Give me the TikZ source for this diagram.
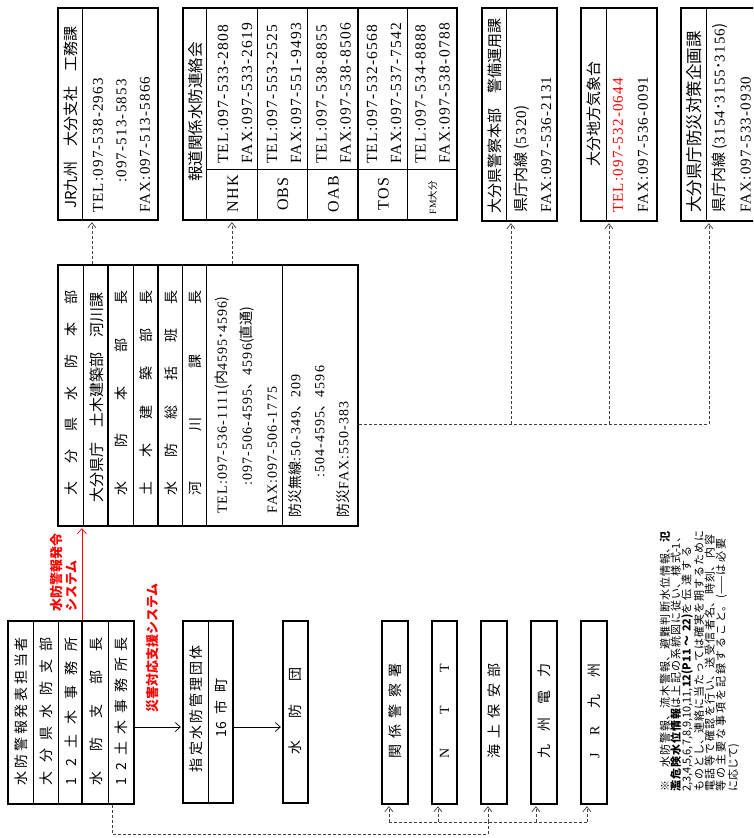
\documentclass[tikz,border=0pt]{standalone}
\usepackage{fontspec}
\setmainfont{Noto Sans CJK JP}
\newfontfamily\telfont[LetterSpace=8]{Liberation Serif}
\usetikzlibrary{arrows.meta,calc}
\newcommand{\spread}[2]{\makebox[#1][s]{#2}}
\newcommand{\tl}[1]{{\telfont #1}}

\begin{document}
\begin{tikzpicture}[x=1pt, y=-1pt,
    frame/.style={draw=black, line width=2.2pt, inner sep=0pt},
    rule/.style={line width=0.7pt},
    heavyrule/.style={line width=2pt},
    vt/.style={rotate=90, inner sep=0pt, font=\fontsize{14}{16}\selectfont},
    block/.style={vt, anchor=west, align=left},
    station/.style={vt, font=\telfont\fontsize{16}{18}\selectfont},
    telpair/.style={block, font=\telfont\fontsize{15.5}{24}\selectfont},
    alert/.style={text=red, font=\fontsize{13}{15}\selectfont\bfseries},
    arr/.style={-{Straight Barb[length=5pt,width=9pt]}, line width=0.7pt, shorten >=1.1pt},
    redarr/.style={arr, draw=red},
    dashline/.style={draw=black!75, line width=0.7pt, dash pattern=on 3pt off 2pt},
    dasharr/.style={dashline, -{Straight Barb[length=5pt,width=8pt]}, shorten >=1.1pt}
  ]
  \useasboundingbox (0,0) rectangle (753,838);
  \clip (0,0) rectangle (753,838);

  \node[frame, minimum width=100pt, minimum height=212pt] (jr) at (108,114) {};
  \draw[rule] ($(jr.north west)+(25,0)$) -- ($(jr.south west)+(25,0)$);
  \node[vt, font=\fontsize{15}{17}\selectfont] (jrname) at (70.5,117.5) {JR九州　大分支社　工務課};
  \node[block, font=\fontsize{15}{23.5}\selectfont] (jrtel) at (121.5,213)
  {\tl{TEL:097-538-2963}\\\phantom{\tl{TEL}}\tl{:097-513-5853}\\\tl{FAX:097-513-5866}};

  \node[frame, minimum width=274pt, minimum height=212pt] (media) at (320,114) {};
  \draw[line width=1pt] ($(media.north west)+(25,0)$) -- ($(media.south west)+(25,0)$);
  \draw[rule] ($(media.north west)+(75,0)$) -- ($(media.south west)+(75,0)$);
  \draw[rule] ($(media.north west)+(125,0)$) -- ($(media.south west)+(125,0)$);
  \draw[heavyrule] ($(media.north west)+(176,0)$) -- ($(media.south west)+(176,0)$);
  \draw[rule] ($(media.north west)+(225,0)$) -- ($(media.south west)+(225,0)$);
  \draw[rule] ($(media.north west)+(25,162)$) -- ($(media.north east)+(0,162)$);
  \node[vt, font=\fontsize{15.5}{17}\selectfont] (medianame) at (195.5,112) {報道関係水防連絡会};
  \node[station] (nhk) at (233,194) {NHK};
  \node[station] (obs) at (283,194) {OBS};
  \node[station] (oab) at (333.5,194) {OAB};
  \node[station] (tos) at (383.5,194) {TOS};
  \node[vt, font=\fontsize{9.5}{11}\selectfont] (fm) at (432.5,198) {\tl{FM}大分};
  \node[telpair] (nhktel) at (235,164) {TEL:097-533-2808\\FAX:097-533-2619};
  \node[telpair] (obstel) at (284,164) {TEL:097-553-2525\\FAX:097-551-9493};
  \node[telpair] (oabtel) at (333.5,164) {TEL:097-538-8855\\FAX:097-538-8506};
  \node[telpair] (tostel) at (384,164) {TEL:097-532-6568\\FAX:097-537-7542};
  \node[telpair] (fmtel) at (432.5,164) {TEL:097-534-8888\\FAX:097-538-0788};

  \node[frame, minimum width=75pt, minimum height=213pt] (police) at (519.5,114.5) {};
  \draw[rule] ($(police.north west)+(25,0)$) -- ($(police.south west)+(25,0)$);
  \node[block, font=\fontsize{15}{17}\selectfont] (policename) at (494.5,214) {大分県警察本部　警備運用課};
  \node[block, font=\fontsize{15}{25}\selectfont] (policetel) at (532.5,213)
  {県庁内線 (\tl{5320})\\\tl{FAX:097-536-2131}};

  \node[frame, minimum width=76pt, minimum height=213pt] (met) at (619,114.5) {};
  \draw[rule] ($(met.north west)+(26,0)$) -- ($(met.south west)+(26,0)$);
  \node[vt, font=\fontsize{15}{17}\selectfont] (metname) at (594,113.5) {大分地方気象台};
  \node[block, font=\fontsize{15}{25}\selectfont] (mettel) at (630.5,213)
  {\textcolor{red}{\tl{TEL:097-532-0644}}\\\tl{FAX:097-536-0091}};

  \node[frame, minimum width=75pt, minimum height=213pt] (disaster) at (718.5,114.5) {};
  \draw[rule] ($(disaster.north west)+(26,0)$) -- ($(disaster.south west)+(26,0)$);
  \node[block, font=\fontsize{16.5}{18}\selectfont] (disname) at (694,213) {大分県庁防災対策企画課};
  \node[block, font=\fontsize{15}{26}\selectfont] (distel) at (731.5,213)
  {県庁内線 (\tl{3154}･\tl{3155}･\tl{3156})\\\tl{FAX:097-533-0930}};

  \node[frame, minimum width=300pt, minimum height=261pt] (hq) at (208,395.5) {};
  \draw[rule] ($(hq.north west)+(26,0)$) -- ($(hq.south west)+(26,0)$);
  \draw[heavyrule] ($(hq.north west)+(51,0)$) -- ($(hq.south west)+(51,0)$);
  \draw[rule] ($(hq.north west)+(76,0)$) -- ($(hq.south west)+(76,0)$);
  \draw[heavyrule] ($(hq.north west)+(101,0)$) -- ($(hq.south west)+(101,0)$);
  \draw[rule] ($(hq.north west)+(125,0)$) -- ($(hq.south west)+(125,0)$);
  \draw[line width=1pt] ($(hq.north west)+(150,0)$) -- ($(hq.south west)+(150,0)$);
  \draw[rule] ($(hq.north west)+(225,0)$) -- ($(hq.south west)+(225,0)$);
  \node[vt] (hqname) at (71,393) {\spread{205pt}{大 分 県 水 防 本 部}};
  \node[vt, font=\fontsize{15}{17}\selectfont] (hqdept) at (96.5,397.5) {大分県庁　土木建築部　河川課};
  \node[vt] (hqchief) at (121.5,393) {\spread{205pt}{水 防 本 部 長}};
  \node[vt] (hqcivil) at (146.5,393) {\spread{205pt}{土 木 建 築 部 長}};
  \node[vt] (hqlead) at (171,393) {\spread{205pt}{水 防 総 括 班 長}};
  \node[vt] (hqriver) at (195.5,393) {\spread{205pt}{河 川 課 長}};
  \node[block, font=\fontsize{14}{25}\selectfont] (hqtel) at (246,514)
  {\tl{TEL:097-536-1111}(内\tl{4595}･\tl{4596})\\
   \phantom{\tl{TEL}}\tl{:097-506-4595}、\tl{4596}(直通)\\
   \tl{FAX:097-506-1775}};
  \node[block, font=\fontsize{14}{24}\selectfont] (hqradio) at (319,518)
  {防災無線\tl{:50-349}、\tl{209}\\
   \hspace*{40pt}\tl{:504-4595}、\tl{4596}\\
   防災\tl{FAX:550-383}};

  \node[frame, minimum width=126pt, minimum height=183pt] (warn) at (71,712.5) {};
  \draw[rule] ($(warn.north west)+(26,0)$) -- ($(warn.south west)+(26,0)$);
  \draw[rule] ($(warn.north west)+(51,0)$) -- ($(warn.south west)+(51,0)$);
  \draw[heavyrule] ($(warn.north west)+(75,0)$) -- ($(warn.south west)+(75,0)$);
  \draw[rule] ($(warn.north west)+(101,0)$) -- ($(warn.south west)+(101,0)$);
  \node[vt] (warnrole) at (21,711) {\spread{148pt}{水 防 警 報 発 表 担 当 者}};
  \node[vt] (warnbranch) at (46.5,711) {\spread{148pt}{大 分 県 水 防 支 部}};
  \node[vt] (warnoffice) at (71,711) {\spread{148pt}{1 2 土 木 事 務 所}};
  \node[vt] (warnchief) at (96,711) {\spread{148pt}{水 防 支 部 長}};
  \node[vt] (warnhead) at (121.5,711) {\spread{148pt}{1 2 土 木 事 務 所 長}};

  \node[frame, minimum width=50pt, minimum height=182pt] (city) at (208,712) {};
  \draw[rule] ($(city.north west)+(26,0)$) -- ($(city.south west)+(26,0)$);
  \node[vt] (citygroup) at (196,709.5) {\spread{125pt}{指 定 水 防 管 理 団 体}};
  \node[vt] (citycount) at (221,708) {\spread{59pt}{16 市 町}};

  \node[frame, minimum width=25pt, minimum height=182pt] (corps) at (295.5,712) {};
  \node[vt] (corpsname) at (295.5,711) {\spread{87pt}{水 防 団}};

  \node[frame, minimum width=26pt, minimum height=183pt] (kpolice) at (395,712.5) {};
  \node[frame, minimum width=25pt, minimum height=183pt] (ntt) at (444.5,712.5) {};
  \node[frame, minimum width=26pt, minimum height=183pt] (coast) at (494,712.5) {};
  \node[frame, minimum width=26pt, minimum height=183pt] (power) at (544,712.5) {};
  \node[frame, minimum width=26pt, minimum height=183pt] (jrk) at (594,712.5) {};
  \node[vt] (kpolicename) at (395,711) {\spread{95pt}{関 係 警 察 署}};
  \node[vt] (nttname) at (444.5,711) {\spread{95pt}{\tl{N} \tl{T} \tl{T}}};
  \node[vt] (coastname) at (494,711) {\spread{95pt}{海 上 保 安 部}};
  \node[vt] (powername) at (544,711) {\spread{95pt}{九 州 電 力}};
  \node[vt] (jrkname) at (594,711) {\spread{95pt}{\tl{J} \tl{R} 九 州}};

  \node[block, alert] (warnsys) at (63.5,612) {水防警報発令\\システム};
  \node[vt, alert] (supsys) at (152.5,648) {災害対応支援システム};

  \node[vt, anchor=north west, text width=268pt, font=\fontsize{11}{10.8}\selectfont] (note) at (659.5,792)
  {\XeTeXlinebreaklocale "ja"\XeTeXlinebreakskip=0pt plus 3pt\lineskiplimit=-20pt\noindent\hangindent=24pt\hangafter=1
   ※\hspace{13pt}水防警報、流木警報、避難判断水位情報、\textbf{氾}\linebreak
   \textbf{濫危険水位情報}は上記の系統図に従い、様式-1、\linebreak
   2,3,4,5,6,7,8,9,10,11,\textbf{12(P11～22)}を伝達する\linebreak
   ものとし、連絡に当たっては確実を期するために\linebreak
   電話等で確認を行い、送受信者名、時刻、内容\linebreak
   等の主要な事項を記録すること。(------は必要\linebreak
   に応じて)};

  \coordinate (toprun) at (0,424);
  \coordinate (feed) at (0,727);
  \coordinate (fanrun) at (0,822);
  \coordinate (lowrun) at (0,834);

  \draw[dasharr] ($(hq.north west)+(35,0)$) -- ($(jr.south west)+(35,0)$);
  \draw[dasharr] ($(hq.north west)+(175,0)$) -- ($(media.south west)+(50,0)$);
  \draw[dashline] (hq.east |- toprun) -- ($(disaster.south west |- toprun)+(29,0)$);
  \draw[dasharr] ($(police.south west |- toprun)+(30,0)$) -- ($(police.south west)+(30,0)$);
  \draw[dasharr] ($(met.south west |- toprun)+(29,0)$) -- ($(met.south west)+(29,0)$);
  \draw[dasharr] ($(disaster.south west |- toprun)+(29,0)$) -- ($(disaster.south west)+(29,0)$);

  \draw[redarr] ($(warn.north west)+(75,0)$) -- ($(hq.south west)+(25,0)$);
  \draw[arr] (warn.east |- feed) -- (city.west |- feed);
  \draw[arr] (city.east |- feed) -- (corps.west |- feed);

  \draw[dashline] ($(warn.south west)+(105,0)$) |- ($(coast.south west |- lowrun)+(8,0)$) -- ($(coast.south west |- fanrun)+(8,0)$);
  \draw[dashline] ($(kpolice.south west |- fanrun)+(8,0)$) -- ($(jrk.south west |- fanrun)+(7,0)$);
  \draw[dasharr] ($(kpolice.south west |- fanrun)+(8,0)$) -- ($(kpolice.south west)+(8,0)$);
  \draw[dasharr] ($(ntt.south west |- fanrun)+(7,0)$) -- ($(ntt.south west)+(7,0)$);
  \draw[dasharr] ($(coast.south west |- fanrun)+(8,0)$) -- ($(coast.south west)+(8,0)$);
  \draw[dasharr] ($(power.south west |- fanrun)+(6,0)$) -- ($(power.south west)+(6,0)$);
  \draw[dasharr] ($(jrk.south west |- fanrun)+(7,0)$) -- ($(jrk.south west)+(7,0)$);
\end{tikzpicture}
\end{document}
